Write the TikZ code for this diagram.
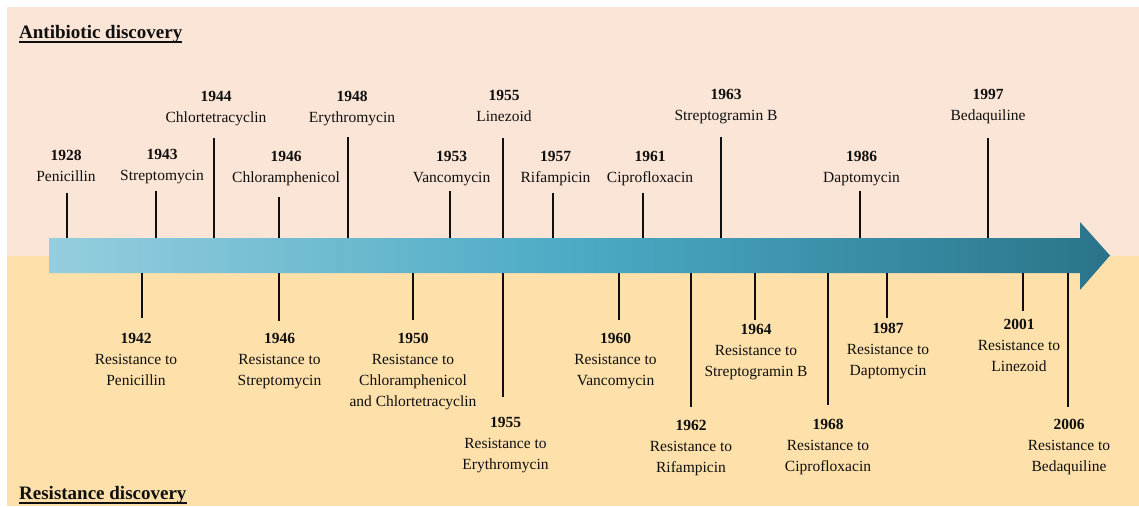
\documentclass[tikz,border=0pt]{standalone}
\usepackage{fontspec}
\setmainfont{LiberationSerif}[Extension=.ttf, UprightFont=*-Regular, BoldFont=*-Bold, ItalicFont=*-Italic, BoldItalicFont=*-BoldItalic]
\definecolor{topbg}{RGB}{251,229,214}
\definecolor{botbg}{RGB}{254,224,170}
\definecolor{arrL}{RGB}{150,206,222}
\definecolor{arrM}{RGB}{75,170,196}
\definecolor{arrR}{RGB}{42,116,138}
\definecolor{ink}{RGB}{15,15,15}
\tikzset{
  lab/.style={anchor=north, align=center, inner sep=0pt, text=ink,
    font=\fontsize{15.5}{21}\selectfont},
  tick/.style={draw=ink, line width=1.4pt},
  ttl/.style={anchor=base west, inner sep=0pt, text=ink,
    font=\fontsize{19}{22}\selectfont\bfseries},
}
\newcommand\evup[7]{%
  \coordinate (b#1) at (#2,238);
  \coordinate (t#1) at (#2,#3);
  \node[lab] (n#1) at (#4,#5) {\textbf{#6}\\#7};
  \draw[tick] (b#1) -- (t#1);
}
\newcommand\evdn[7]{%
  \coordinate (b#1) at (#2,273);
  \coordinate (t#1) at (#2,#3);
  \node[lab] (n#1) at (#4,#5) {\textbf{#6}\\#7};
  \draw[tick] (b#1) -- (t#1);
}
\begin{document}
\begin{tikzpicture}[x=1pt,y=-1pt]
\useasboundingbox (0,0) rectangle (1139,506);
\fill[white] (0,0) rectangle (1139,506);
\fill[topbg] (7,7) rectangle (1139,255.5);
\fill[botbg] (7,255.5) rectangle (1139,506);
% arrow
\shade[left color=arrL, right color=arrR, middle color=arrM]
  (49,238) -- (1080,238) -- (1080,222) -- (1110,255.5) -- (1080,290)
  -- (1080,273) -- (49,273) -- cycle;
% titles
\node[ttl] (ta) at (19,38) {Antibiotic discovery};
\draw[ink, line width=1.2pt] ([yshift=-4pt]ta.base west) -- ([yshift=-4pt]ta.base east);
\node[ttl] (tr) at (19,499) {Resistance discovery};
\draw[ink, line width=1.2pt] ([yshift=-4pt]tr.base west) -- ([yshift=-4pt]tr.base east);
% antibiotic discovery
\evup{a1928}{67}{193}{66}{150}{1928}{Penicillin}
\evup{a1943}{156}{191}{162}{149}{1943}{Streptomycin}
\evup{a1944}{214}{138}{216}{91}{1944}{Chlortetracyclin}
\evup{a1946}{279}{197}{286}{151}{1946}{Chloramphenicol}
\evup{a1948}{348}{137}{352}{91}{1948}{Erythromycin}
\evup{a1953}{450}{191}{451.5}{151}{1953}{Vancomycin}
\evup{a1955}{503}{138}{504}{90}{1955}{Linezoid}
\evup{a1957}{553}{193}{555.5}{151}{1957}{Rifampicin}
\evup{a1961}{643}{193}{650}{151}{1961}{Ciprofloxacin}
\evup{a1963}{721}{137}{726}{89}{1963}{Streptogramin B}
\evup{a1986}{860}{191}{861.5}{151}{1986}{Daptomycin}
\evup{a1997}{988}{138}{988}{89}{1997}{Bedaquiline}
% resistance discovery
\evdn{r1942}{142}{318}{136}{333}{1942}{Resistance to\\Penicillin}
\evdn{r1946}{279}{321}{279.5}{333}{1946}{Resistance to\\Streptomycin}
\evdn{r1950}{413}{320}{413}{333}{1950}{Resistance to\\Chloramphenicol\\and Chlortetracyclin}
\evdn{r1955}{503}{397}{505.5}{417}{1955}{Resistance to\\Erythromycin}
\evdn{r1960}{619}{320}{615.5}{333}{1960}{Resistance to\\Vancomycin}
\evdn{r1962}{691}{407}{691}{420}{1962}{Resistance to\\Rifampicin}
\evdn{r1964}{755}{320}{756}{324}{1964}{Resistance to\\Streptogramin B}
\evdn{r1968}{828}{405}{828}{419}{1968}{Resistance to\\Ciprofloxacin}
\evdn{r1987}{887}{318}{888}{323}{1987}{Resistance to\\Daptomycin}
\evdn{r2001}{1023}{311}{1019}{319}{2001}{Resistance to\\Linezoid}
\evdn{r2006}{1068}{407}{1069}{419}{2006}{Resistance to\\Bedaquiline}
\end{tikzpicture}
\end{document}
